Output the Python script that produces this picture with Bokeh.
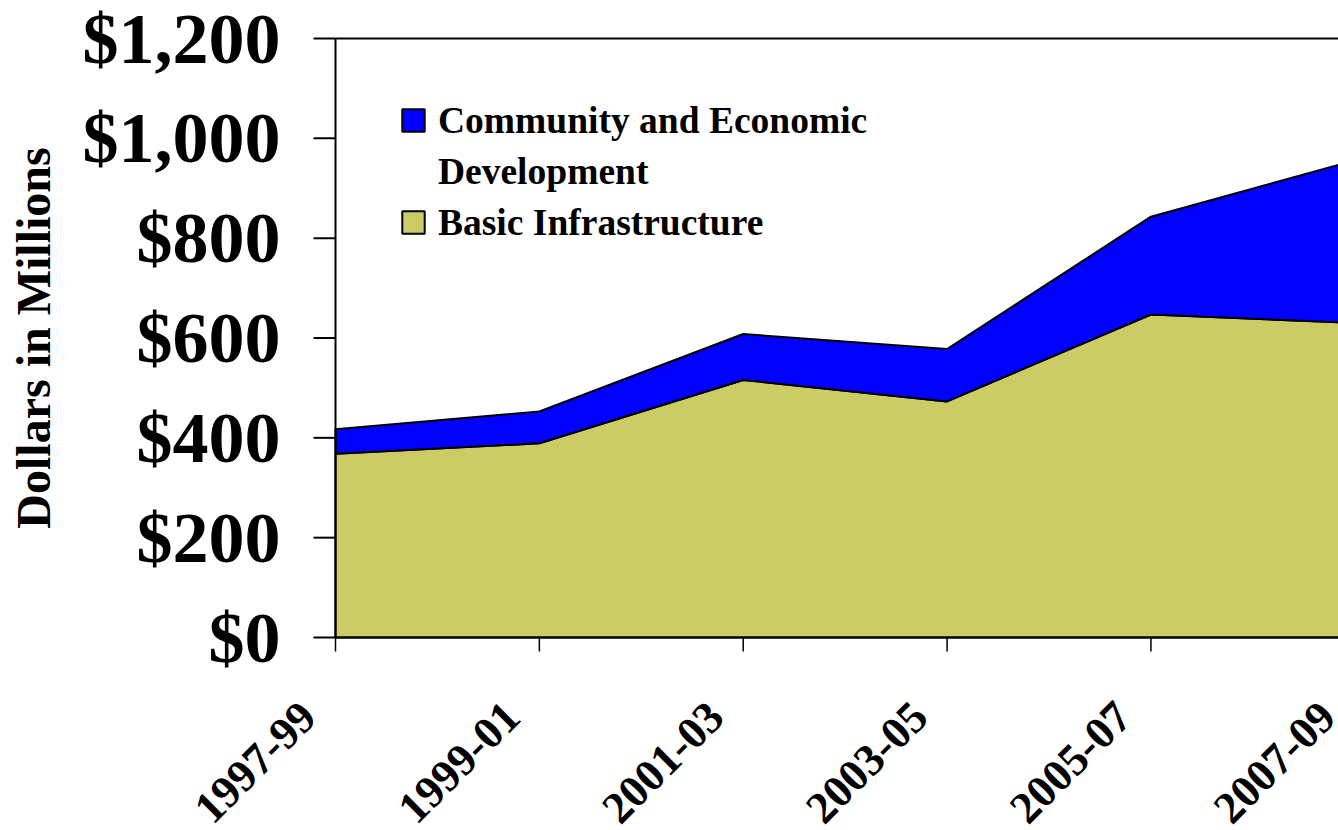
from bokeh.plotting import figure
from bokeh.models import Legend, LegendItem, Range1d
from bokeh.core.properties import value
from bokeh.embed import file_html
from bokeh.resources import INLINE
import math

periods = ["1997-99", "1999-01", "2001-03", "2003-05", "2005-07", "2007-09"]
basic_infrastructure = [368, 389, 516, 473, 647, 630]
community_econ_dev = [49, 64, 92, 105, 196, 326]
y_ticks = [0, 200, 400, 600, 800, 1000, 1200]
y_tick_labels = ["${:,}".format(v) for v in y_ticks]
y_title = "Dollars in Millions"

FONT = "Liberation Serif"
BLUE = "#0000FF"
OLIVE = "#CCCC66"

# page / plot-area geometry (pixels)
W, H = 1338, 830
AX_LEFT, AX_TOP, AX_ZERO = 335, 38, 637
X_STEP = 203.86
Y_MAX = y_ticks[-1]
y_per_px = Y_MAX / (AX_ZERO - AX_TOP)

# the frame covers the whole canvas so that all axis texts can be drawn as glyphs
x_range = Range1d(-AX_LEFT / X_STEP, (W - AX_LEFT) / X_STEP)
y_range = Range1d(-(H - AX_ZERO) * y_per_px, Y_MAX + AX_TOP * y_per_px)

p = figure(width=W, height=H, output_backend="svg", toolbar_location=None,
           x_range=x_range, y_range=y_range, min_border=0)
p.xaxis.visible = False
p.yaxis.visible = False
p.xgrid.visible = False
p.ygrid.visible = False
p.outline_line_color = None
p.background_fill_color = "white"
p.border_fill_color = "white"

xs = list(range(len(periods)))
totals = [b + c for b, c in zip(basic_infrastructure, community_econ_dev)]
zeros = [0] * len(xs)

# stacked areas built from the data
base_x = xs + xs[::-1]
r_basic = p.patch(base_x, basic_infrastructure + zeros, fill_color=OLIVE,
                  line_color="black", line_width=2)
r_comm = p.patch(base_x, totals + basic_infrastructure[::-1], fill_color=BLUE,
                 line_color="black", line_width=2)
r_blank = p.scatter([], [], marker="square", fill_alpha=0, line_alpha=0)

x0 = xs[0]
# axis lines: x axis, top border, y axis
p.ray(x=[x0, x0], y=[y_ticks[0], y_ticks[-1]], angle=0, length=0,
      line_color="black", line_width=2)
p.segment(x0=[x0], y0=[y_ticks[0]], x1=[x0], y1=[y_ticks[-1]],
          line_color="black", line_width=2)

# tick marks
p.ray(x=[x0] * len(y_ticks), y=y_ticks, angle=math.pi, length=22, length_units="screen",
      line_color="black", line_width=2)
p.ray(x=xs, y=zeros, angle=-math.pi / 2, length=14, length_units="screen",
      line_color="black", line_width=1.5)

# y tick labels
p.text(x=[x0] * len(y_ticks), y=y_ticks, text=y_tick_labels, x_offset=-55,
       text_align="right", text_baseline="middle", text_font=value(FONT),
       text_font_style="bold", text_font_size="72px", text_color="black")

# y axis title
p.text(x=[x0], y=[(y_ticks[0] + y_ticks[-1]) / 2], text=[y_title], x_offset=-302,
       angle=math.pi / 2, text_align="center", text_baseline="middle",
       text_font=value(FONT), text_font_style="bold", text_font_size="48px",
       text_color="black")

# x category labels (rotated 45 degrees)
p.text(x=xs, y=zeros, text=periods, angle=math.pi / 4, x_offset=-27, y_offset=72,
       text_align="right", text_baseline="middle", text_font=value(FONT),
       text_font_style="bold", text_font_size="45px", text_color="black")

legend = Legend(items=[LegendItem(label="Community and Economic", renderers=[r_comm]),
                       LegendItem(label="Development", renderers=[r_blank]),
                       LegendItem(label="Basic Infrastructure", renderers=[r_basic])],
                location=(399, 585), margin=0, padding=10, spacing=5,
                glyph_width=28, glyph_height=28, label_standoff=11, label_height=46,
                label_text_font=FONT, label_text_font_style="bold",
                label_text_font_size="37.5px", label_text_color="black",
                border_line_color=None, background_fill_alpha=0)
p.add_layout(legend)

open("out.html", "w").write(file_html(p, INLINE))
